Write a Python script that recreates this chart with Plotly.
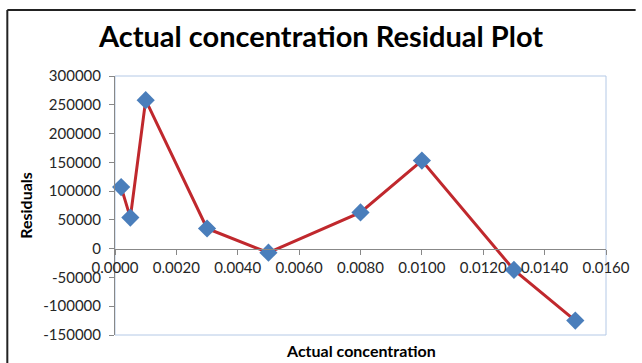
import plotly.graph_objects as go

concentration = [0.0002, 0.0005, 0.0010, 0.0030, 0.0050, 0.0080, 0.0100, 0.0130, 0.0150]
residuals = [107000, 54000, 258000, 35000, -7000, 63000, 153000, -37000, -125000]

y_tickvals = [-150000, -100000, -50000, 0, 50000, 100000, 150000, 200000, 250000, 300000]
y_ticktext = ["-150000", "-100000", "-50000", "0", "50000", "100000", "150000", "200000", "250000", "300000"]
x_tickvals = [0.0, 0.002, 0.004, 0.006, 0.008, 0.010, 0.012, 0.014, 0.016]
x_ticktext = ["0.0000", "0.0020", "0.0040", "0.0060", "0.0080", "0.0100", "0.0120", "0.0140", "0.0160"]

title_text = "Actual concentra\u200ction Residual Plot"
x_title = "Actual concentra\u200ction"
y_title = "Residuals"

W, H = 642, 363
L, R, T, B = 115, 612, 76, 335
pw, ph = R - L, B - T

def px(x):
    return (x - L) / pw

def py(y):
    return (B - y) / ph

ymin, ymax = -150000, 300000
zero_pos = (0 - ymin) / (ymax - ymin)

font = "Lato, 'Open Sans', sans-serif"

fig = go.Figure()
fig.add_trace(go.Scatter(
    x=concentration, y=residuals, mode="lines+markers",
    line=dict(color="#C0282D", width=3),
    marker=dict(symbol="diamond", size=14, color="#4A7EBB"),
    showlegend=False, cliponaxis=False,
))

fig.update_layout(
    width=W, height=H,
    margin=dict(l=L, r=W - R, t=T, b=H - B, pad=0),
    paper_bgcolor="white", plot_bgcolor="white",
    font=dict(family=font, size=15, color="#262626"),
    title=dict(text="<b>" + title_text + "</b>",
               x=0.5, xref="container", xanchor="center",
               y=1 - 37 / H, yref="container", yanchor="middle",
               font=dict(family=font, size=29, color="#000000")),
    xaxis=dict(range=[0, 0.016], tickvals=x_tickvals, ticktext=x_ticktext,
               anchor="free", position=zero_pos,
               showline=True, linecolor="#888888", linewidth=1,
               ticks="outside", ticklen=5, tickcolor="#888888",
               showgrid=False, zeroline=False,
               tickfont=dict(size=15, color="#262626")),
    yaxis=dict(range=[ymin, ymax], tickvals=y_tickvals, ticktext=y_ticktext,
               showline=True, linecolor="#888888", linewidth=1,
               ticks="outside", ticklen=5, tickcolor="#888888",
               ticklabelstandoff=5,
               showgrid=False, zeroline=False,
               tickfont=dict(size=15, color="#262626"),
               title=dict(text="<b>" + y_title + "</b>", font=dict(size=16, color="#000000"), standoff=6)),
    shapes=[
        dict(type="rect", xref="paper", yref="paper", x0=0, y0=0, x1=1, y1=1,
             line=dict(color="#B4C9E6", width=1), layer="below"),
        dict(type="line", xref="paper", yref="paper", x0=px(6), y0=py(10), x1=px(642), y1=py(10),
             line=dict(color="#222222", width=2)),
        dict(type="line", xref="paper", yref="paper", x0=px(6), y0=py(10), x1=px(6), y1=py(363),
             line=dict(color="#222222", width=2)),
    ],
    annotations=[
        dict(text="<b>" + x_title + "</b>", xref="paper", yref="paper",
             x=0.5, y=py(350), xanchor="center", yanchor="middle", showarrow=False,
             font=dict(family=font, size=16, color="#000000")),
    ],
)

fig.write_html("out.html")
